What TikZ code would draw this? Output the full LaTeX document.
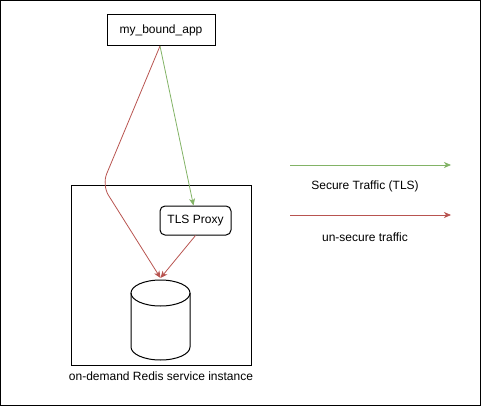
\documentclass[tikz,border=0pt]{standalone}
\usepackage{fontspec}
\setmainfont{Liberation Sans}
\usetikzlibrary{arrows.meta}
\definecolor{dgreen}{HTML}{82B366}
\definecolor{dred}{HTML}{B85450}
\begin{document}
\begin{tikzpicture}[x=1pt,y=-1pt,
  lbl/.style={font=\fontsize{12}{14}\selectfont, inner sep=0pt},
  boxed/.style={draw, line width=1pt, fill=white, font=\fontsize{12}{14}\selectfont, inner sep=0pt},
  arr/.style={line width=0.8pt, -{Stealth[length=7pt,width=6pt,inset=2pt]}},
]
\useasboundingbox (0,0) rectangle (481,406);
\draw[line width=1pt] (0.5,0.5) rectangle (480.5,405.5);
% instance box
\draw[line width=1pt] (71,185) rectangle (251,365);
\node[lbl] (inst) at (161,376) {on-demand Redis service instance};
% app
\node[boxed, minimum width=108pt, minimum height=31pt] (app) at (161,30) {my\_bound\_app};
% tls proxy
\node[boxed, rounded corners=5pt, minimum width=71pt, minimum height=29pt] (tls) at (195.5,220.5) {TLS Proxy};
% cylinder
\draw[line width=1pt, fill=white] (131,293) -- (131,347) arc[start angle=180, end angle=360, x radius=29.5, y radius=-13] -- (190,293);
\draw[line width=1pt] (160.5,293) ellipse[x radius=29.5, y radius=13];
\coordinate (db) at (160.5,278);
\coordinate (src) at (160,46);
% connectors
\draw[arr, dgreen] (src) -- (tls.north -| 193.5,0);
\draw[arr, dred, rounded corners=12pt] (src) -- (102,185) -- (db);
\draw[arr, dred] (tls.south) -- (db);
% legend
\coordinate (g1) at (290,165); \coordinate (g2) at (451,165);
\coordinate (r1) at (290,215); \coordinate (r2) at (451,215);
\draw[arr, dgreen] (g1) -- (g2);
\draw[arr, dred] (r1) -- (r2);
\node[lbl] (sec) at (365,186) {Secure Traffic (TLS)};
\node[lbl] (unsec) at (365,237) {un-secure traffic};
\end{tikzpicture}
\end{document}
